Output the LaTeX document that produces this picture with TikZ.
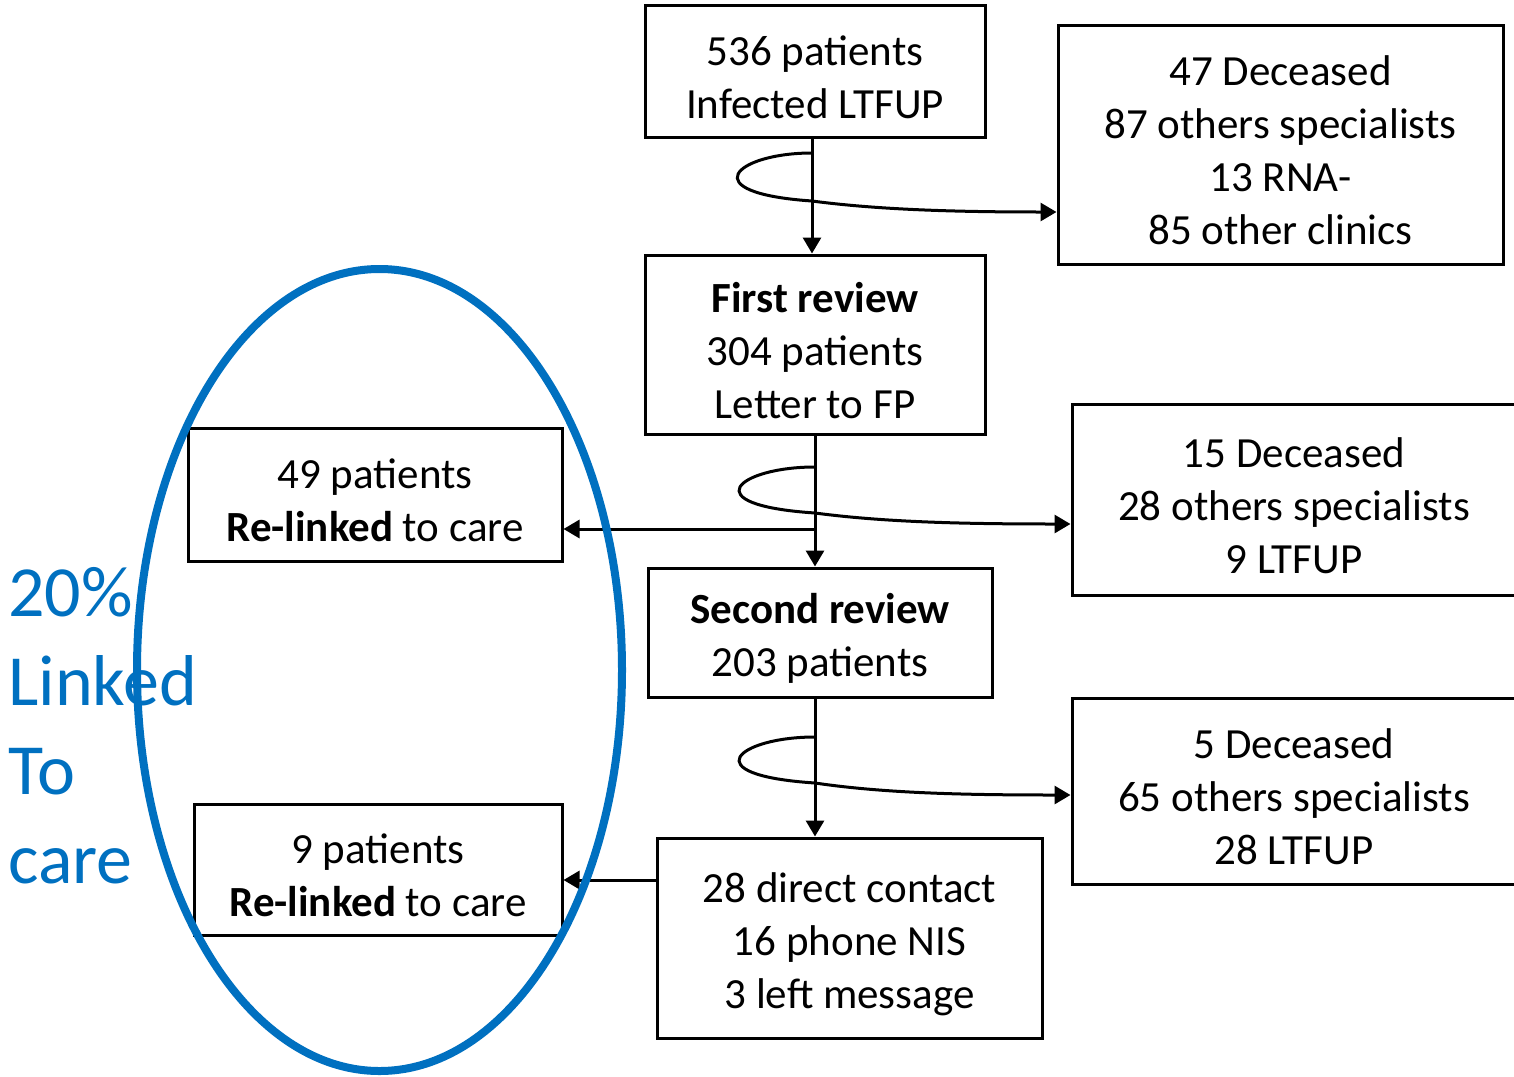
\documentclass[tikz,border=0pt]{standalone}
\usepackage{fontspec}
\setmainfont{Carlito}
\usetikzlibrary{arrows.meta}
\definecolor{ovalblue}{HTML}{0070C0}
\newcommand{\boxfont}{\fontsize{21.5}{26.5}\selectfont}
\newcommand{\tp}{\rule{0pt}{21pt}}
\tikzset{
  box/.style={draw, line width=1.5pt, align=center, inner sep=0pt, font=\boxfont, fill=white},
  flow/.style={line width=1.5pt, -{Triangle[length=8pt,width=9pt]}},
  curl/.style={line width=1.5pt, -{Triangle[length=8pt,width=9pt]}},
}
\begin{document}
\begin{tikzpicture}[x=0.5pt,y=-0.5pt]
\useasboundingbox (0,0) rectangle (1514,1076);
% boxes
\node[box, minimum width=170pt, minimum height=66pt] (A) at (815,71) {\tp 536 patients\\Infected LTFUP};
\node[box, minimum width=222.5pt, minimum height=119.5pt] (B) at (1280.5,144.5) {\tp 47 Deceased\\87 others specialists\\13 RNA-\\85 other clinics};
\node[box, minimum width=170pt, minimum height=89.5pt] (C) at (815,344.5) {\tp\textbf{First review}\\304 patients\\Letter to FP};
\node[box, minimum width=222pt, minimum height=95.5pt] (D) at (1294,499.5) {\tp 15 Deceased\\28 others specialists\\9 LTFUP};
\node[box, minimum width=187pt, minimum height=66.5pt] (E) at (375,494.5) {\tp 49 patients\\\textbf{Re-linked} to care};
\node[box, minimum width=172pt, minimum height=64.5pt] (F) at (820,632.5) {\tp\textbf{Second review}\\203 patients};
\node[box, minimum width=222pt, minimum height=93pt] (G) at (1294,791) {\tp 5 Deceased\\65 others specialists\\28 LTFUP};
\node[box, minimum width=184pt, minimum height=65.5pt] (H) at (378,869.5) {\tp 9 patients\\\textbf{Re-linked} to care};
\node[box, minimum width=192.5pt, minimum height=100pt] (I) at (849.5,938) {\tp 28 direct contact\\16 phone NIS\\3 left message};
% helper coordinates
\coordinate (c1) at (812,153);
\coordinate (x1) at (812,201);
\coordinate (e1) at (0,212);
\coordinate (c2) at (815,467);
\coordinate (x2) at (815,513);
\coordinate (e2) at (0,524);
\coordinate (l2) at (815,529);
\coordinate (c3) at (815,737);
\coordinate (x3) at (815,783);
\coordinate (e3) at (0,795);
\coordinate (h3) at (0,880);
% vertical flow
\draw[flow] (A.south -| c1) -- (C.north -| c1);
\draw[flow] (C.south -| c2) -- (F.north -| c2);
\draw[flow] (F.south -| c3) -- (I.north -| c3);
% curls
\draw[curl] (c1) .. controls (735,153) and (692,193) .. (x1) .. controls (880,210) and (960,212) .. (B.west |- e1);
\draw[curl] (c2) .. controls (738,467) and (692,505) .. (x2) .. controls (883,522) and (960,524) .. (D.west |- e2);
\draw[curl] (c3) .. controls (738,737) and (692,775) .. (x3) .. controls (883,793) and (960,795) .. (G.west |- e3);
% left arrows
\draw[flow] (l2) -- (E.east |- l2);
\draw[flow] (I.west |- h3) -- (H.east |- h3);
% blue oval and text
\node[anchor=base west, align=left, text=ovalblue, inner sep=0pt, font=\fontsize{36}{44.5}\selectfont] (T) at (8,883) {20\%\\Linked\\To\\care};
\draw[ovalblue, line width=4pt] (379.5,670) ellipse [x radius=242.5, y radius=401];
\end{tikzpicture}
\end{document}
